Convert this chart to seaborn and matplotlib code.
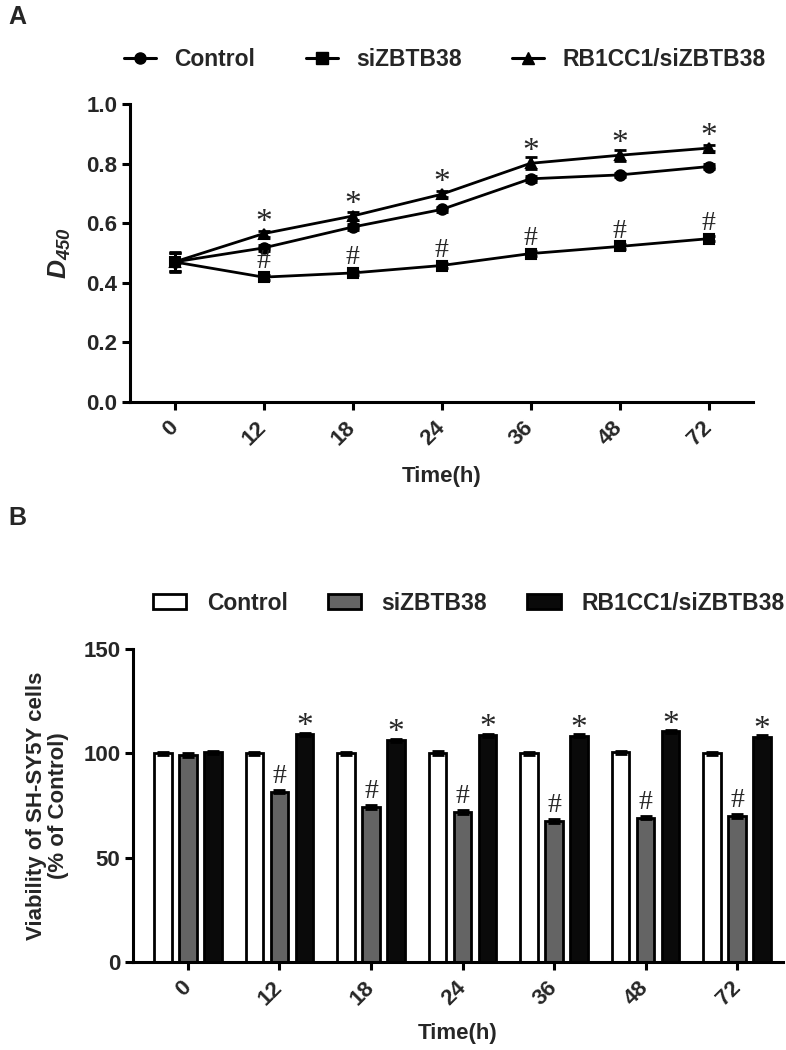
import seaborn as sns
import matplotlib.pyplot as plt
import pandas as pd
import numpy as np

# Data
times = ["0", "12", "18", "24", "36", "48", "72"]
groups = ["Control", "siZBTB38", "RB1CC1/siZBTB38"]

# Panel A: D450
ctrl_od = [0.47, 0.517, 0.587, 0.646, 0.749, 0.762, 0.790]
si_od = [0.47, 0.419, 0.433, 0.458, 0.498, 0.522, 0.548]
rb_od = [0.47, 0.565, 0.624, 0.697, 0.801, 0.828, 0.852]
ctrl_od_err = [0.03, 0.010, 0.010, 0.008, 0.010, 0.008, 0.008]
si_od_err = [0.035, 0.008, 0.008, 0.008, 0.008, 0.008, 0.008]
rb_od_err = [0.03, 0.010, 0.012, 0.010, 0.020, 0.018, 0.010]

# Panel B: viability (% of control)
ctrl_v = [100.0, 100.0, 100.0, 100.2, 100.0, 100.4, 100.0]
si_v = [99.2, 81.6, 74.2, 71.9, 67.6, 69.1, 69.9]
rb_v = [100.5, 109.2, 106.3, 108.7, 108.4, 110.5, 108.0]
ctrl_v_err = [0.8, 0.8, 0.8, 1.0, 0.8, 0.8, 0.8]
si_v_err = [0.8, 0.8, 0.9, 0.9, 0.8, 0.8, 0.8]
rb_v_err = [0.8, 0.7, 0.8, 0.8, 0.8, 0.7, 0.7]

sig_star = ["", "*", "*", "*", "*", "*", "*"]
sig_hash = ["", "#", "#", "#", "#", "#", "#"]

sns.set_style("ticks")
plt.rcParams["font.family"] = ["Liberation Sans", "DejaVu Sans"]
plt.rcParams["font.weight"] = "bold"
plt.rcParams["mathtext.fontset"] = "custom"
plt.rcParams["mathtext.it"] = "Liberation Sans:bold:italic"
plt.rcParams["mathtext.rm"] = "Liberation Sans:bold:italic"

W, H = 786, 1050
fig = plt.figure(figsize=(W / 100, H / 100), dpi=100)

def ax_rect(l, t, r, b):
    return [l / W, 1 - b / H, (r - l) / W, (b - t) / H]

def style_axis(ax):
    sns.despine(ax=ax)
    for s in ["left", "bottom"]:
        ax.spines[s].set_linewidth(2.2)
        ax.spines[s].set_color("black")
    ax.tick_params(axis="both", width=2.2, length=6, color="black",
                   labelsize=16, pad=3)
    ax.tick_params(axis="x", pad=10)
    for lab in ax.get_yticklabels():
        lab.set_fontweight("bold")
    ax.set_xticks(range(len(times)))
    ax.set_xticklabels(times, rotation=45, ha="right", va="center",
                       rotation_mode="anchor", fontweight="bold", fontsize=16)

star_kw = dict(textcoords="offset points", ha="center", va="center",
               fontsize=24, family="Liberation Serif", fontweight="normal")
hash_kw = dict(textcoords="offset points", ha="center", va="center",
               fontsize=20, family="Liberation Serif", fontweight="normal")

# ---------------- Panel A ----------------
axA = fig.add_axes(ax_rect(130, 104, 753, 402))
dfA = pd.DataFrame({
    "time": times * 3,
    "od": ctrl_od + si_od + rb_od,
    "group": [g for g in groups for _ in times],
})
sns.pointplot(data=dfA, x="time", y="od", hue="group", order=times,
              hue_order=groups, palette=["black"] * 3,
              markers=["o", "s", "^"], linestyles="-", errorbar=None,
              markersize=7.5, linewidth=2, ax=axA, legend=False)
xs = np.arange(len(times))
for vals, errs in [(ctrl_od, ctrl_od_err), (si_od, si_od_err), (rb_od, rb_od_err)]:
    axA.errorbar(xs, vals, yerr=errs, fmt="none", ecolor="black",
                 elinewidth=2, capsize=4, capthick=2, zorder=1)

for i in range(len(times)):
    if sig_star[i]:
        axA.annotate(sig_star[i], (i, rb_od[i]), xytext=(0, 8), **star_kw)
    if sig_hash[i]:
        axA.annotate(sig_hash[i], (i, si_od[i]), xytext=(0, 11), **hash_kw)

axA.set_xlim(-0.5, 6.5)
axA.set_ylim(0, 1.0)
axA.set_yticks([0, 0.2, 0.4, 0.6, 0.8, 1.0])
axA.set_yticklabels(["0.0", "0.2", "0.4", "0.6", "0.8", "1.0"])
style_axis(axA)
axA.set_xlabel("Time(h)", fontsize=16, fontweight="bold", labelpad=12)
axA.set_ylabel(r"$\mathit{D_{450}}$", fontsize=19, labelpad=10)

handlesA = [plt.Line2D([], [], color="black", lw=2.2, marker=m, markersize=8)
            for m in ["o", "s", "^"]]
fig.legend(handlesA, groups, loc="center left",
           bbox_to_anchor=(124 / W, 1 - 60 / H), borderpad=0, borderaxespad=0,
           ncol=3, frameon=False, handlelength=1.4, columnspacing=2.2,
           handletextpad=0.8, prop={"weight": "bold", "size": 16.5})

fig.text(8 / W, 1 - 17 / H, "A", fontsize=18, fontweight="bold", va="center")

# ---------------- Panel B ----------------
axB = fig.add_axes(ax_rect(133, 649, 783, 962))
dfB = pd.DataFrame({
    "time": times * 3,
    "viab": ctrl_v + si_v + rb_v,
    "group": [g for g in groups for _ in times],
})
bar_colors = ["white", "#646464", "#0a0a0a"]
sns.barplot(data=dfB, x="time", y="viab", hue="group", order=times,
            hue_order=groups, palette=bar_colors, edgecolor="black",
            linewidth=2, width=0.82, gap=0.3, errorbar=None, ax=axB,
            legend=False)

err_sets = [ctrl_v_err, si_v_err, rb_v_err]
val_sets = [ctrl_v, si_v, rb_v]
centers = []
for cont, vals, errs in zip(axB.containers, val_sets, err_sets):
    cx = [p.get_x() + p.get_width() / 2 for p in cont.patches]
    centers.append(cx)
    axB.errorbar(cx, vals, yerr=errs, fmt="none", ecolor="black",
                 elinewidth=2, capsize=4, capthick=2, zorder=3)

for i in range(len(times)):
    if sig_star[i]:
        axB.annotate(sig_star[i], (centers[2][i], rb_v[i]), xytext=(0, 5),
                     **star_kw)
    if sig_hash[i]:
        axB.annotate(sig_hash[i], (centers[1][i], si_v[i]), xytext=(0, 11),
                     **hash_kw)

axB.set_xlim(-0.6, 6.5)
axB.set_ylim(0, 150)
axB.set_yticks([0, 50, 100, 150])
style_axis(axB)
axB.set_xlabel("Time(h)", fontsize=16, fontweight="bold", labelpad=10)
axB.set_ylabel("Viability of SH-SY5Y cells\n(% of Control)", fontsize=16,
               fontweight="bold", labelpad=10, linespacing=1.1)

handlesB = [plt.Rectangle((0, 0), 1, 1, facecolor=c, edgecolor="black", lw=2)
            for c in bar_colors]
fig.legend(handlesB, groups, loc="center left",
           bbox_to_anchor=(153 / W, 1 - 603 / H), borderpad=0, borderaxespad=0,
           ncol=3, frameon=False, handlelength=1.45, handleheight=0.6,
           columnspacing=1.75, handletextpad=0.9,
           prop={"weight": "bold", "size": 16.5})

fig.text(8 / W, 1 - 518 / H, "B", fontsize=18, fontweight="bold", va="center")

fig.savefig("out.png", dpi=100)
